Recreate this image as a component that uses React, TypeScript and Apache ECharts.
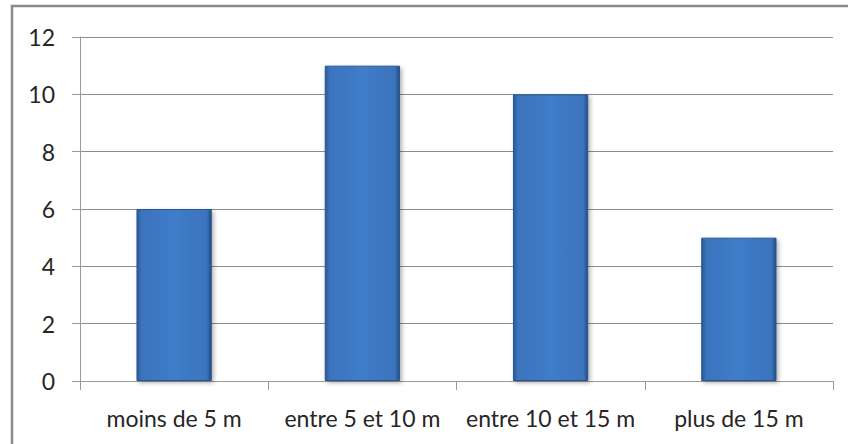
import React, { useEffect, useRef } from "react";
import * as echarts from "echarts";

const categories = ["moins de 5 m", "entre 5 et 10 m", "entre 10 et 15 m", "plus de 15 m"];
const values = [6, 11, 10, 5];

export default function App() {
  const ref = useRef<HTMLDivElement>(null);
  useEffect(() => {
    if (!ref.current) return;
    const chart = echarts.init(ref.current, null, { renderer: "svg" });
    const font = "Lato";
    chart.setOption({
      animation: false,
      backgroundColor: "#ffffff",
      grid: { left: 80, right: 15, top: 37, bottom: 63, containLabel: false },
      graphic: [
        {
          type: "rect",
          shape: { x: 12, y: 6, width: 850, height: 450 },
          style: { fill: "none", stroke: "#8a8a8a", lineWidth: 2.5 },
          silent: true,
          z: 100,
        },
      ],
      xAxis: {
        type: "category",
        data: categories,
        axisLine: { show: true, lineStyle: { color: "#9a9a9a", width: 1 } },
        axisTick: { show: true, length: 9, lineStyle: { color: "#9a9a9a" } },
        axisLabel: {
          color: "#262626",
          fontSize: 23,
          fontFamily: font,
          margin: 25,
          interval: 0,
          hideOverlap: false,
        },
      },
      yAxis: {
        type: "value",
        min: 0,
        max: 12,
        interval: 2,
        axisLine: { show: true, lineStyle: { color: "#9a9a9a", width: 1 } },
        axisTick: { show: true, length: 8, inside: false, lineStyle: { color: "#9a9a9a" } },
        splitLine: { show: true, lineStyle: { color: "#8c8c8c", width: 1 } },
        axisLabel: { color: "#262626", fontSize: 23, fontFamily: font, margin: 25 },
      },
      series: [
        {
          type: "bar",
          data: values,
          barWidth: "40%",
          itemStyle: {
            color: new echarts.graphic.LinearGradient(0, 0, 1, 0, [
              { offset: 0, color: "#2b5894" },
              { offset: 0.06, color: "#3b73bd" },
              { offset: 0.5, color: "#3f7cc9" },
              { offset: 0.94, color: "#3b73bd" },
              { offset: 1, color: "#244c82" },
            ]),
            borderColor: "#2a5590",
            borderWidth: 1,
            shadowColor: "rgba(0,0,0,0.3)",
            shadowBlur: 4,
            shadowOffsetX: 2,
            shadowOffsetY: 2,
          },
        },
      ],
    });
    return () => chart.dispose();
  }, []);
  return (
    <div
      ref={ref}
      style={{ position: "absolute", left: 0, top: 0, width: 848, height: 444 }}
    />
  );
}
